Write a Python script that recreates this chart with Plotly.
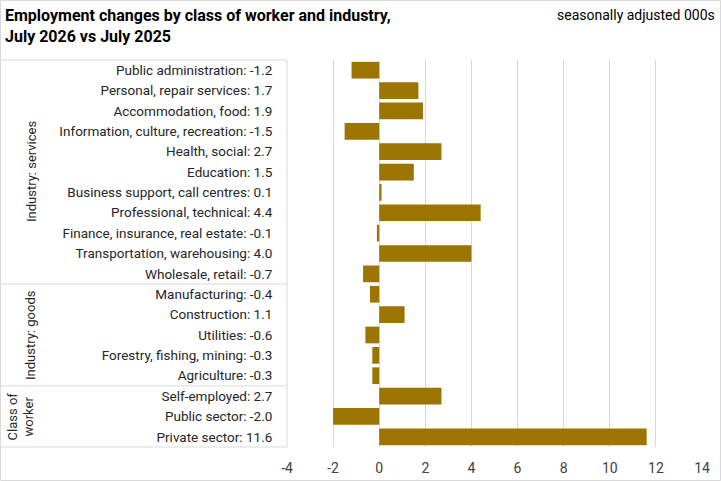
import plotly.graph_objects as go

categories = [
    "Public administration", "Personal, repair services", "Accommodation, food",
    "Information, culture, recreation", "Health, social", "Education",
    "Business support, call centres", "Professional, technical",
    "Finance, insurance, real estate", "Transportation, warehousing",
    "Wholesale, retail",
    "Manufacturing", "Construction", "Utilities", "Forestry, fishing, mining",
    "Agriculture",
    "Self-employed", "Public sector", "Private sector",
]
values = [-1.2, 1.7, 1.9, -1.5, 2.7, 1.5, 0.1, 4.4, -0.1, 4.0, -0.7,
          -0.4, 1.1, -0.6, -0.3, -0.3,
          2.7, -2.0, 11.6]
groups = ["Industry: services", "Industry: goods", "Class of<br>worker"]
group_sizes = [11, 5, 3]
x_ticks = [-4, -2, 0, 2, 4, 6, 8, 10, 12, 14]

labels = [f"{c}: {v:.1f}" for c, v in zip(categories, values)]

W, H = 721, 481
L, R, T, B = 287, 19, 60, 34
pw = W - L - R
ph = H - T - B

def px_x(p):
    return (p - L) / pw

def px_y(p):
    return 1 - (p - T) / ph

FONT = "Roboto, sans-serif"
BAR = "#9C7500"
LINE = "#D9D9D9"

fig = go.Figure(go.Bar(
    x=values, y=labels, orientation="h",
    marker=dict(color=BAR, line=dict(width=0)),
    width=0.82,
))

n = len(categories)
shapes = []
shapes.append(dict(type="rect", xref="paper", yref="paper",
                   x0=px_x(0.5), x1=px_x(720.5), y0=px_y(480.5), y1=px_y(0.5),
                   line=dict(color=LINE, width=1)))
shapes.append(dict(type="rect", xref="paper", yref="paper",
                   x0=px_x(0.5), x1=0, y0=0, y1=1,
                   line=dict(color=LINE, width=1), layer="below"))
annotations = []
start = 0
for g, s in zip(groups, group_sizes):
    end = start + s
    if end < n:
        shapes.append(dict(type="line", xref="paper", yref="y",
                           x0=px_x(0.5), x1=0, y0=end - 0.5, y1=end - 0.5,
                           line=dict(color=LINE, width=1)))
    mid = (start + end - 1) / 2
    annotations.append(dict(text=g, xref="paper", yref="y",
                            x=px_x(31 if "<br>" not in g else 21), y=mid,
                            textangle=-90, showarrow=False,
                            xanchor="center", yanchor="middle",
                            font=dict(family=FONT, size=13, color="#262626")))
    start = end

annotations.append(dict(text="<b>Employment changes by class of worker and industry,<br>July 2026 vs July 2025</b>",
                        xref="paper", yref="paper", x=px_x(3), y=px_y(4),
                        xanchor="left", yanchor="top", align="left", showarrow=False,
                        font=dict(family=FONT, size=16, color="#000000")))
annotations.append(dict(text="seasonally adjusted 000s",
                        xref="paper", yref="paper", x=px_x(717), y=px_y(5),
                        xanchor="right", yanchor="top", showarrow=False,
                        font=dict(family=FONT, size=14, color="#000000")))

fig.update_layout(
    width=W, height=H,
    margin=dict(l=L, r=R, t=T, b=B, autoexpand=False),
    paper_bgcolor="white", plot_bgcolor="white",
    showlegend=False,
    shapes=shapes, annotations=annotations,
    font=dict(family=FONT, size=13, color="#262626"),
)
fig.update_xaxes(range=[-4, 14], tickvals=x_ticks, ticktext=[str(v) for v in x_ticks],
                 showgrid=True, gridcolor=LINE,
                 gridwidth=1, zeroline=False, showline=False,
                 ticks="outside", ticklen=8, tickcolor="rgba(0,0,0,0)",
                 tickfont=dict(family=FONT, size=14, color="#404040"))
fig.update_yaxes(type="category", categoryorder="array", categoryarray=labels,
                 range=[n - 0.5, -0.5], showgrid=False, zeroline=False, ticks="outside",
                 ticklen=11, tickcolor="rgba(0,0,0,0)",
                 tickfont=dict(family=FONT, size=13.5, color="#262626"))

fig.write_html("out.html", config={"displayModeBar": False},
               post_script="document.body.style.margin='0px';")
